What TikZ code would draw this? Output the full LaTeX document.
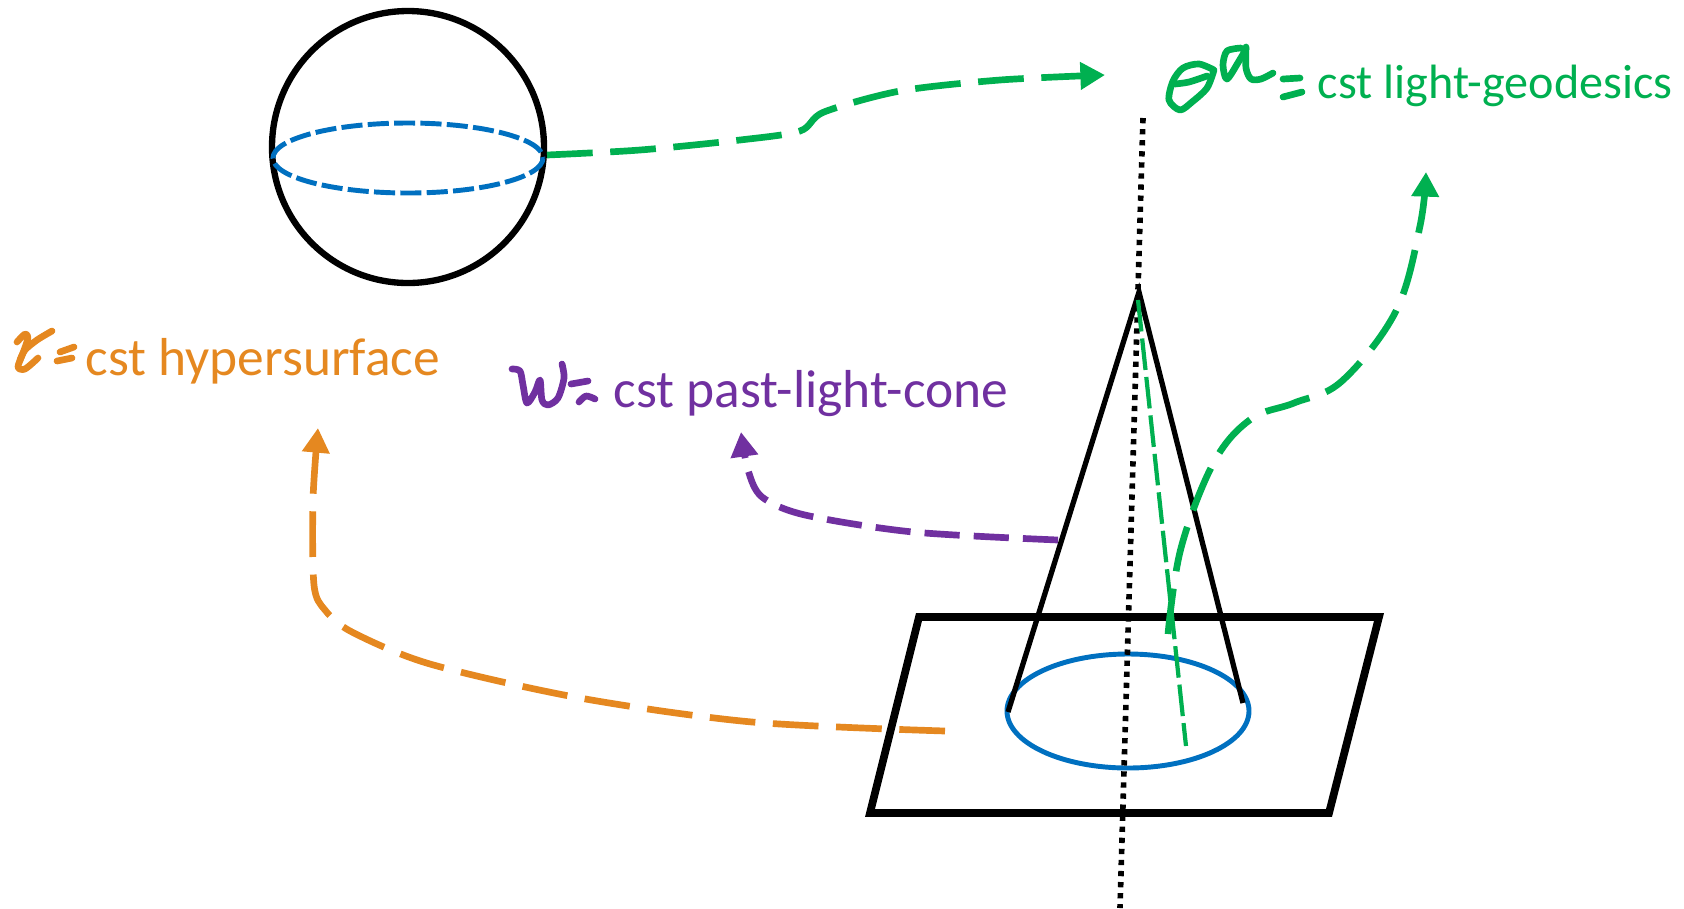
\documentclass[tikz,border=0pt]{standalone}
\usepackage{fontspec}
\setmainfont{Carlito}
\usepackage{xcolor}
\usetikzlibrary{arrows.meta}
\definecolor{cstgreen}{HTML}{00B050}
\definecolor{cstorange}{HTML}{E58820}
\definecolor{cstpurple}{HTML}{7030A0}
\definecolor{cstblue}{HTML}{0070C0}
\tikzset{
  outline/.style={draw=black,line width=1.8pt},
  flow/.style={line width=1.9pt,dash pattern=on 13pt off 5pt,-{Triangle[length=7pt,width=7.5pt]}},
  ink/.style={line width=1.9pt,line cap=round,line join=round},
  cstlabel/.style={anchor=base west,inner sep=0pt,font=\fontsize{15.2pt}{18pt}\selectfont}
}
\begin{document}
\begin{tikzpicture}[x=0.01cm,y=-0.01cm]
\useasboundingbox (0,0) rectangle (1684,908);

% sphere
\draw[outline] (408,147) circle (136);
\draw[cstblue,line width=1.4pt,dash pattern=on 6pt off 1.5pt] (408,158) ellipse (135 and 35);

% plane and cone
\draw[outline,line width=2.2pt] (919,617) -- (1379,617) -- (1329,813) -- (870,813) -- cycle;
\draw[cstblue,line width=1.4pt] (1128,711) ellipse (121 and 57);
\draw[line width=1.5pt] (1008,712) -- (1139,292) -- (1243,703);

% axis
\draw[line width=1.6pt,dash pattern=on 1.5pt off 1.65pt] (1143,118) -- (1120,908);

% generator
\draw[cstgreen,line width=1.2pt,dash pattern=on 9pt off 2pt] (1138,300) -- (1186,746);

% labels
\node[cstlabel,text=cstorange] (hypersurface) at (85,375) {cst hypersurface};
\node[cstlabel,text=cstpurple] (pastcone) at (613,407) {cst past-light-cone};
\node[cstlabel,text=cstgreen,font=\fontsize{13.7pt}{16pt}\selectfont] (geodesics) at (1317,98) {cst light-geodesics};

% arrows
\draw[flow,cstgreen] plot[smooth,tension=0.5] coordinates {(547,155) (640,150) (740,140) (800,131) (824,112) (900,91) (1000,80) (1105,75)};
\draw[flow,cstgreen] plot[smooth,tension=0.6] coordinates {(1168,634) (1181,548) (1214,462) (1251,419) (1294,403) (1342,381) (1396,311) (1420,226) (1426,172)};
\draw[flow,cstpurple,dash pattern=on 10pt off 4pt] plot[smooth,tension=0.5] coordinates {(1058,540) (913,532) (805,515) (762,497) (748,470) (741,432)};
\draw[flow,cstorange] plot[smooth,tension=0.5] coordinates {(945,731) (752,722) (580,698) (430,664) (352,632) (325,610) (314,585) (313,500) (318,428)};

% handwriting
\draw[ink,cstgreen] plot[smooth] coordinates {(1214,70) (1199,64) (1183,68) (1173,81) (1169,100) (1180,110) (1192,102) (1207,88) (1214,70)};
\draw[ink,cstgreen] plot[smooth] coordinates {(1175,84) (1189,82) (1207,76)};
\draw[ink,cstgreen] plot[smooth] coordinates {(1241,48) (1227,51) (1223,65) (1227,79) (1239,61) (1246,49)};
\draw[ink,cstgreen] plot[smooth] coordinates {(1246,47) (1246,68) (1251,79) (1261,79) (1273,73)};
\draw[ink,cstgreen] (1283,79) -- (1300,78);
\draw[ink,cstgreen] (1283,97) -- (1302,92);

\draw[ink,cstorange] plot[smooth] coordinates {(17,342) (25,334) (28,338) (23,353) (18,367) (25,369) (38,358)};
\draw[ink,cstorange] plot[smooth] coordinates {(52,331) (37,340) (25,350) (20,360)};
\draw[ink,cstorange] (60,352) -- (74,347);
\draw[ink,cstorange] (57,361) -- (72,358);

\draw[ink,cstpurple] plot[smooth] coordinates {(512,369) (520,371) (523,385) (527,403) (535,392) (540,380) (542,400) (548,405) (558,398) (564,378) (562,364)};
\draw[ink,cstpurple] (571,384) -- (588,381);
\draw[ink,cstpurple] plot[smooth] coordinates {(579,402) (586,396) (595,399)};
\end{tikzpicture}
\end{document}
